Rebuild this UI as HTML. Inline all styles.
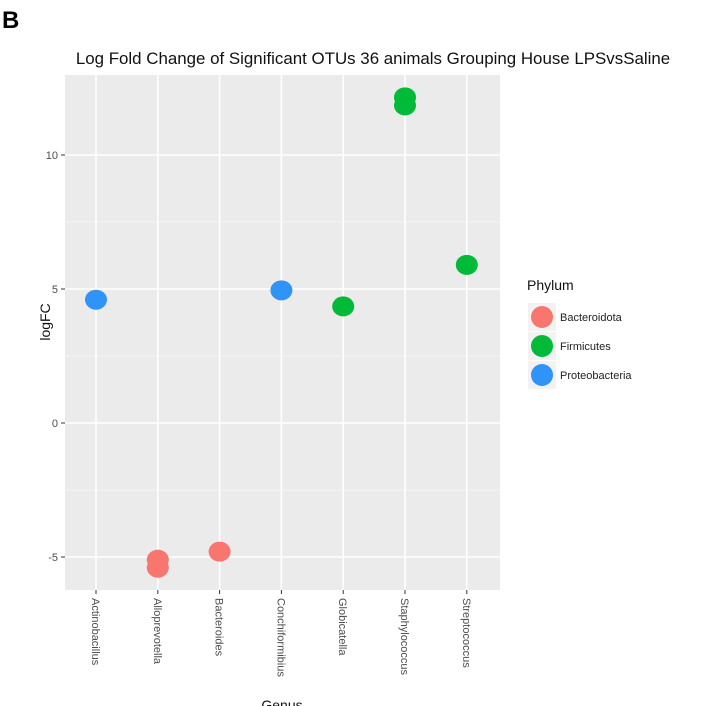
<!DOCTYPE html>
<html><head><meta charset="utf-8"><style>
body{margin:0;background:#fff;}
svg{display:block;font-family:"Liberation Sans",sans-serif;}
</style></head><body>
<svg id="chart" width="705" height="706">
<text x="2" y="28" font-size="24" font-weight="bold">B</text>
<text x="373" y="64" font-size="16.9" text-anchor="middle" fill="#111">Log Fold Change of Significant OTUs 36 animals Grouping House LPSvsSaline</text>
<rect x="65" y="75" width="435" height="515" fill="#ebebeb"/>
<g id="grid"></g><g id="axes"></g><g id="points"></g>
<text transform="translate(50,322) rotate(-90)" font-size="14" text-anchor="middle" fill="#111">logFC</text>
<text x="282" y="710" font-size="14" text-anchor="middle" fill="#111">Genus</text>
<g id="legend"></g>
</svg>
<script>
const categories=["Actinobacillus","Alloprevotella","Bacteroides","Conchiformibius","Globicatella","Staphylococcus","Streptococcus"];
const pointGenus=["Actinobacillus","Alloprevotella","Alloprevotella","Bacteroides","Conchiformibius","Globicatella","Staphylococcus","Staphylococcus","Streptococcus"];
const pointLogFC=[4.6,-5.1,-5.4,-4.8,4.95,4.35,12.15,11.85,5.9];
const pointPhylum=["Proteobacteria","Bacteroidota","Bacteroidota","Bacteroidota","Proteobacteria","Firmicutes","Firmicutes","Firmicutes","Firmicutes"];
const yTicks=[-5,0,5,10];
const phyla=["Bacteroidota","Firmicutes","Proteobacteria"];
const colors={Bacteroidota:"#F8766D",Firmicutes:"#00BA38",Proteobacteria:"#2F93F7"};
const NS="http://www.w3.org/2000/svg";
const x=c=>96+categories.indexOf(c)*61.8;
const y=v=>423-26.8*v;
function mk(t,a,p){const e=document.createElementNS(NS,t);for(const k in a)e.setAttribute(k,a[k]);p.appendChild(e);return e;}
const grid=document.getElementById('grid'),axes=document.getElementById('axes'),pts=document.getElementById('points'),leg=document.getElementById('legend');
[-2.5,2.5,7.5].forEach(v=>{const l=mk('line',{x1:65,x2:500,y1:y(v),y2:y(v),stroke:'#f7f7f7','stroke-width':0.8},grid);

});
yTicks.forEach(v=>{const l=mk('line',{x1:65,x2:500,y1:y(v),y2:y(v),stroke:'#fff','stroke-width':1.6},grid);


const tk=mk('line',{x1:61,x2:65,y1:y(v),y2:y(v),stroke:'#333'},axes);


const t=mk('text',{x:58,y:y(v)+4,'font-size':11,'text-anchor':'end',fill:'#4d4d4d'},axes);t.textContent=v;

});
categories.forEach(c=>{const l=mk('line',{x1:x(c),x2:x(c),y1:75,y2:590,stroke:'#fff','stroke-width':1.6},grid);


const tk=mk('line',{x1:x(c),x2:x(c),y1:590,y2:594,stroke:'#333'},axes);


const t=mk('text',{transform:`translate(${x(c)-4},598) rotate(90)`,'font-size':11,fill:'#4d4d4d'},axes);t.textContent=c;

});
pointLogFC.forEach((v,i)=>{const e=mk('ellipse',{cx:x(pointGenus[i]),cy:y(v),rx:11,ry:10,fill:colors[pointPhylum[i]]},pts);

});
const lt=mk('text',{x:527,y:290,'font-size':14,fill:'#111'},leg);lt.textContent='Phylum';


phyla.forEach((p,i)=>{const cy=317+29*i;
const bg=mk('rect',{x:528,y:cy-14,width:28,height:28,fill:'#f2f2f2'},leg);


const e=mk('ellipse',{cx:542,cy:cy,rx:11,ry:11,fill:colors[p]},leg);


const t=mk('text',{x:560,y:cy+4,'font-size':11,fill:'#222'},leg);t.textContent=p;

});
</script>
</body></html>
